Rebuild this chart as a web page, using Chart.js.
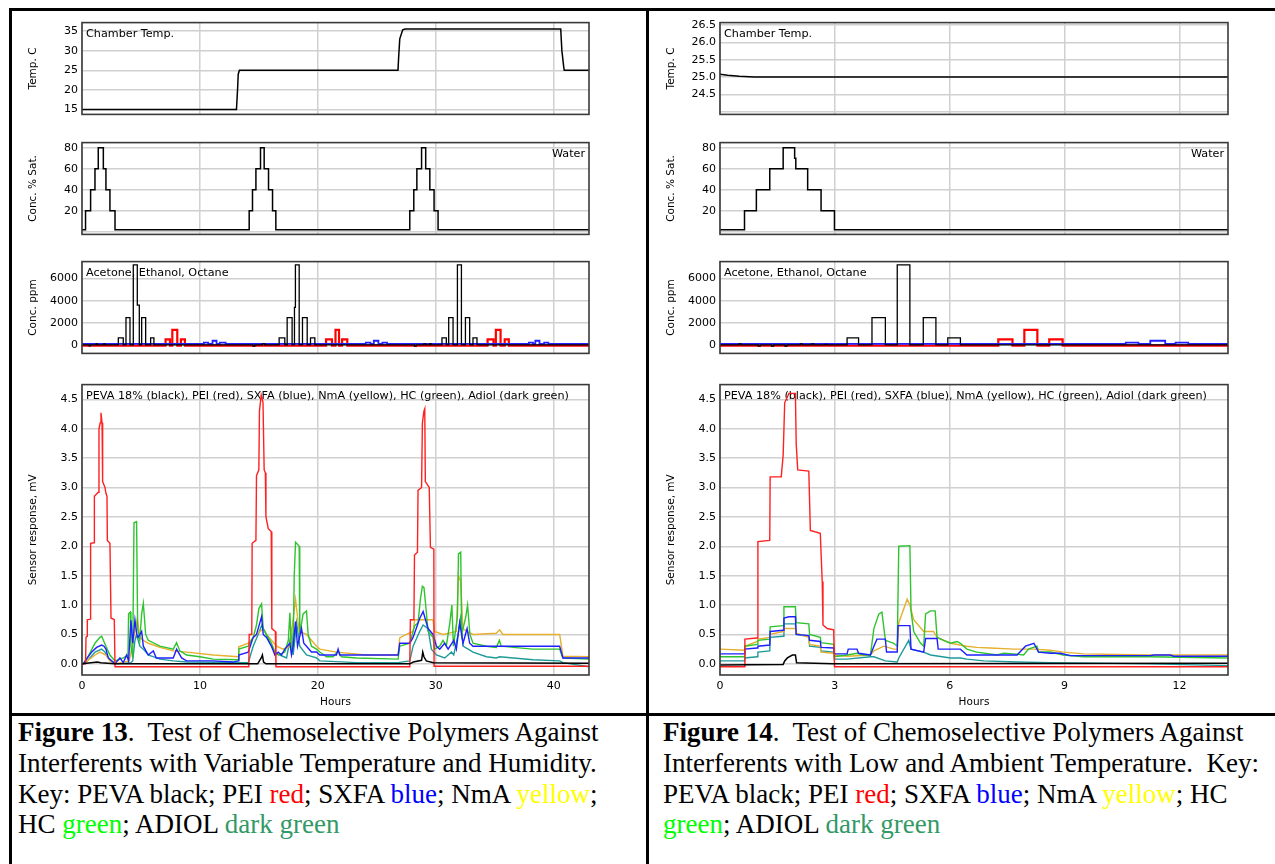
<!DOCTYPE html>
<html>
<head>
<meta charset="utf-8">
<script src="https://cdn.jsdelivr.net/npm/chart.js@4.4.1/dist/chart.umd.min.js"></script>
<style>
html, body { margin: 0; padding: 0; background: #fff; }
body { width: 1275px; height: 864px; position: relative; overflow: hidden; }
canvas { position: absolute; }
.rule { position: absolute; background: #000; }
.cap { position: absolute; font-family: "Liberation Serif", "Times New Roman", serif; font-size: 27px; line-height: 30.8px; color: #000; white-space: nowrap; }
</style>
</head>
<body>
<div class="rule" style="left:9px;top:8px;width:1266px;height:3px"></div>
<div class="rule" style="left:9px;top:8px;width:3px;height:856px"></div>
<div class="rule" style="left:646px;top:8px;width:3px;height:856px"></div>
<div class="rule" style="left:9px;top:713px;width:1266px;height:3px"></div>

<canvas id="tempL" width="587" height="113" style="left:12px;top:12px"></canvas>
<canvas id="waterL" width="587" height="113" style="left:12px;top:132px"></canvas>
<canvas id="concL" width="587" height="113" style="left:12px;top:251px"></canvas>
<canvas id="sensL" width="587" height="337" style="left:12px;top:374px"></canvas>

<canvas id="tempR" width="588" height="113" style="left:650px;top:12px"></canvas>
<canvas id="waterR" width="588" height="113" style="left:650px;top:132px"></canvas>
<canvas id="concR" width="588" height="113" style="left:650px;top:251px"></canvas>
<canvas id="sensR" width="588" height="337" style="left:650px;top:374px"></canvas>

<div class="cap" style="left:18px;top:717px"><b>Figure 13</b>.&nbsp; Test of Chemoselective Polymers Against<br>Interferents with Variable Temperature and Humidity.<br>Key: PEVA black; PEI <span style="color:#ff0000">red</span>; SXFA <span style="color:#0000ff">blue</span>; NmA <span style="color:#ffff00">yellow</span>;<br>HC <span style="color:#00ff00">green</span>; ADIOL <span style="color:#339966">dark green</span></div>
<div class="cap" style="left:663px;top:717px"><b>Figure 14</b>.&nbsp; Test of Chemoselective Polymers Against<br>Interferents with Low and Ambient Temperature.&nbsp; Key:<br>PEVA black; PEI <span style="color:#ff0000">red</span>; SXFA <span style="color:#0000ff">blue</span>; NmA <span style="color:#ffff00">yellow</span>; HC<br><span style="color:#00ff00">green</span>; ADIOL <span style="color:#339966">dark green</span></div>

<script>
// tick values
const hoursTicksL = [0, 10, 20, 30, 40];
const hoursTicksR = [0, 3, 6, 9, 12];
const tempTicksL = [15, 20, 25, 30, 35];
const tempTicksR = [24.0, 24.5, 25.0, 25.5, 26.0, 26.5];
const waterTicks = [0, 20, 40, 60, 80];
const concTicks = [0, 2000, 4000, 6000];
const sensorTicks = [0, 0.5, 1.0, 1.5, 2.0, 2.5, 3.0, 3.5, 4.0, 4.5];

// Figure 13 (left) - [hours, value]
const tempL = [[0,15],[13.1,15],[13.2,20.5],[13.25,24],[13.35,25],[26.8,25],[26.85,28],[26.95,33],[27.2,35.3],[27.4,35.5],[40.6,35.5],[40.7,30],[40.85,26],[40.9,25],[43,25]];
// stepped: value holds from this hour on
const waterL = [[0,2],[0.3,20],[0.73,40],[1.1,60],[1.38,80],[1.81,60],[2.03,40],[2.37,20],[2.8,2],[14.18,20],[14.46,40],[14.75,60],[15.14,80],[15.45,60],[15.82,40],[16.16,20],[16.44,2],[27.8,20],[28.14,40],[28.4,60],[28.8,80],[29.15,60],[29.5,40],[29.86,20],[30.2,2],[43,2]];
const acetoneL = [[0,0],[0.6,-80],[0.7,0],[1.2,100],[1.3,0],[1.85,100],[1.95,0],[3.08,640],[3.5,0],[3.73,2460],[4.07,0],[4.35,7230],[4.69,3600],[4.86,0],[5.06,2460],[5.4,0],[5.82,640],[6.1,0],[14.5,-100],[14.65,0],[15.3,100],[15.5,0],[16.72,640],[17.2,0],[17.4,2460],[17.82,0],[18.02,3400],[18.1,7230],[18.42,0],[18.7,2460],[19.1,0],[19.38,640],[19.75,0],[28.2,-100],[28.35,0],[29.0,100],[29.15,0],[29.5,120],[29.6,0],[30.53,640],[30.9,0],[31.1,2460],[31.47,0],[31.84,7230],[32.18,0],[32.52,2460],[32.88,0],[33.16,640],[33.5,0],[43,0]];
const ethanolL = [[0,-70],[7.09,500],[7.46,-70],[7.66,1360],[8.08,-70],[8.39,500],[8.73,-70],[20.7,500],[21.2,-70],[21.5,1360],[21.8,-70],[22.06,500],[22.5,-70],[34.4,500],[34.9,-70],[35.1,1360],[35.5,-70],[35.85,500],[36.2,-70],[43,-70]];
const octaneL = [[0,90],[10.34,200],[10.7,90],[11.07,380],[11.41,90],[11.69,200],[12.18,90],[24.07,200],[24.46,90],[24.75,380],[25.14,90],[25.48,200],[25.87,90],[37.9,200],[38.25,90],[38.45,380],[38.8,90],[39.2,200],[39.55,90],[43,90]];

const pevaL = [[0,0],[1.3,0.03],[1.6,0.02],[2.8,0],[14.9,0],[15.2,0.1],[15.3,0.15],[15.4,0.03],[15.6,0],[27.8,0],[28.1,0.03],[28.8,0.06],[28.9,0.2],[29.0,0.12],[29.2,0.05],[29.8,0.02],[43,0.01]];
const peiL = [[0,0],[0.3,0],[0.34,0.45],[0.43,0.47],[0.45,0.75],[0.7,0.76],[0.73,2.05],[1.02,2.06],[1.05,2.85],[1.38,2.92],[1.44,4.0],[1.55,4.1],[1.61,4.27],[1.7,4.1],[1.75,3.1],[1.95,3.0],[2.03,2.9],[2.12,2.85],[2.15,2.1],[2.37,2.05],[2.46,0.78],[2.74,0.75],[2.8,-0.05],[14.15,-0.05],[14.18,0.5],[14.4,0.5],[14.43,2.05],[14.75,2.1],[14.8,3.2],[15.0,3.3],[15.05,4.3],[15.2,4.57],[15.35,4.45],[15.45,3.3],[15.55,3.25],[15.6,2.5],[15.8,2.3],[16.05,2.25],[16.1,0.6],[16.4,0.55],[16.45,-0.05],[27.8,-0.05],[27.85,0.75],[28.15,0.75],[28.2,1.85],[28.45,1.9],[28.5,2.95],[28.8,3.0],[28.87,4.1],[29.0,4.3],[29.07,4.34],[29.12,3.1],[29.45,3.0],[29.55,1.98],[29.84,1.95],[29.86,-0.04],[43,-0.04]];
const sxfaL = [[0,0],[0.11,0],[0.45,0.1],[0.82,0.2],[1.24,0.28],[1.67,0.32],[1.86,0.3],[2.03,0.25],[2.23,0.1],[2.8,0],[3.22,0.1],[3.5,0.02],[3.79,0.15],[3.95,0.05],[4.15,0.74],[4.3,0.35],[4.49,0.75],[4.65,0.5],[4.77,0.45],[5.06,0.55],[5.2,0.3],[5.62,0.15],[6.05,0.22],[6.3,0.1],[7.74,0.1],[8.02,0.25],[8.45,0.1],[8.87,0.05],[11.13,0.05],[12.82,0.03],[13.25,0.05],[13.3,0.15],[14.1,0.2],[14.52,0.45],[14.8,0.5],[15.23,0.8],[15.37,0.5],[15.65,0.45],[16.07,0.3],[16.36,0.15],[16.64,0.2],[16.92,0.15],[17.2,0.25],[17.63,0.35],[17.77,0.15],[17.91,0.3],[18.11,0.72],[18.28,0.3],[18.62,0.6],[18.81,0.35],[19.04,0.3],[19.46,0.2],[19.89,0.2],[20.17,0.15],[21.58,0.15],[21.72,0.25],[21.86,0.15],[26.81,0.15],[26.95,0.35],[27.8,0.35],[28.08,0.45],[28.64,0.77],[28.93,0.89],[29.35,0.6],[29.77,0.5],[30.06,0.3],[30.34,0.25],[30.76,0.35],[31.05,0.25],[31.53,0.4],[31.75,0.25],[32.03,0.7],[32.32,0.35],[32.66,0.6],[32.88,0.35],[33.16,0.3],[40.51,0.3],[40.79,0.1],[43,0.1]];
const hcL = [[0,0],[0.11,0],[0.45,0.1],[1.1,0.35],[1.52,0.45],[1.67,0.47],[2.03,0.3],[2.37,0.15],[2.8,0.05],[3.5,0.1],[3.9,0.15],[3.95,0.85],[4.1,0.88],[4.15,0.3],[4.3,0.1],[4.41,2.4],[4.63,2.42],[4.72,0.6],[4.9,0.4],[5.06,0.85],[5.2,1.03],[5.4,0.5],[5.62,0.4],[6.61,0.3],[7.74,0.25],[8.02,0.36],[8.3,0.22],[8.87,0.15],[10.0,0.12],[11.13,0.08],[13.25,0.07],[13.3,0.25],[14.1,0.3],[14.52,0.45],[14.8,0.66],[15.0,0.94],[15.23,1.02],[15.37,0.6],[15.65,0.5],[16.07,0.35],[16.36,0.2],[16.64,0.15],[17.2,0.2],[17.5,0.4],[17.63,0.87],[17.77,0.2],[17.91,0.3],[18.0,1.5],[18.11,2.07],[18.42,2.0],[18.47,0.5],[18.75,0.85],[19.04,0.9],[19.18,0.5],[19.46,0.3],[19.89,0.25],[20.17,0.2],[20.73,0.12],[21.3,0.12],[21.72,0.22],[22.0,0.12],[23.28,0.1],[26.81,0.08],[26.95,0.3],[27.8,0.35],[28.22,0.65],[28.5,0.7],[28.7,1.1],[28.87,1.32],[29.0,1.3],[29.15,1.0],[29.35,0.55],[29.77,0.45],[29.9,0.25],[30.34,0.3],[30.62,0.4],[30.9,0.3],[31.2,0.7],[31.37,1.0],[31.5,0.3],[31.84,0.8],[31.93,1.87],[32.12,1.9],[32.2,0.5],[32.55,0.8],[32.7,1.0],[32.9,0.5],[33.16,0.35],[34.3,0.3],[35.14,0.28],[35.4,0.4],[35.55,0.3],[36.6,0.28],[38.25,0.25],[40.51,0.25],[40.79,0.1],[43,0.08]];
const nmaL = [[0,0],[0.11,0],[0.45,0.05],[1.1,0.15],[1.52,0.2],[2.03,0.15],[2.37,0.05],[2.8,0],[4.0,0.05],[4.35,0.4],[4.69,0.77],[4.9,0.45],[5.2,0.4],[5.62,0.35],[6.61,0.28],[7.74,0.22],[8.87,0.2],[11.13,0.15],[13.25,0.12],[13.3,0.29],[14.1,0.35],[14.52,0.45],[15.37,0.6],[15.65,0.5],[16.07,0.4],[16.5,0.3],[17.06,0.25],[17.63,0.3],[18.11,1.1],[18.42,0.55],[19.04,0.5],[19.89,0.3],[20.17,0.25],[21.58,0.2],[24.1,0.15],[26.81,0.15],[26.95,0.44],[27.5,0.5],[28.08,0.55],[28.22,0.75],[29.77,0.75],[29.9,0.55],[30.62,0.5],[31.75,0.55],[31.93,1.5],[32.12,1.4],[32.3,0.6],[32.66,0.55],[33.16,0.5],[35.14,0.52],[35.42,0.58],[35.7,0.5],[40.51,0.5],[40.79,0.13],[43,0.12]];
const adiolL = [[0,0],[0.11,0],[0.45,0.05],[1.1,0.2],[1.67,0.25],[1.95,0.2],[2.23,0.1],[2.8,0],[4.15,0.02],[4.3,0.05],[4.49,0.4],[4.63,0.5],[4.9,0.3],[5.2,0.25],[5.62,0.15],[6.61,0.08],[7.74,0.05],[8.87,0.03],[14.1,0.02],[14.52,0.3],[14.94,0.5],[15.23,0.65],[15.5,0.55],[15.93,0.35],[16.36,0.2],[16.78,0.15],[17.35,0.1],[17.77,0.55],[17.91,0.15],[18.2,0.7],[18.47,0.3],[19.04,0.15],[19.89,0.1],[20.17,0.05],[23.28,0.02],[26.81,0.02],[27.8,0.05],[28.08,0.3],[28.64,0.55],[28.93,0.66],[29.35,0.6],[29.63,0.25],[30.06,0.15],[30.76,0.1],[31.05,0.15],[31.33,0.2],[31.53,0.15],[31.9,0.5],[32.1,0.77],[32.32,0.3],[32.75,0.25],[33.16,0.2],[34.3,0.12],[35.14,0.1],[35.42,0.12],[38.25,0.07],[40.51,0.05],[40.79,0.02],[43,-0.05]];

// Figure 14 (right)
const tempR = [[0,25.08],[0.2,25.05],[0.5,25.02],[0.9,25.0],[13.27,25.0]];
const waterR = [[0,2],[0.64,20],[0.95,40],[1.3,60],[1.65,80],[1.95,70],[1.98,60],[2.29,40],[2.64,20],[2.99,2],[13.27,2]];
const acetoneR = [[0,0],[0.5,100],[0.55,0],[1.0,-100],[1.05,0],[1.35,-100],[1.4,0],[1.7,-100],[1.75,0],[2.1,100],[2.15,0],[2.4,100],[2.45,0],[2.75,50],[2.8,0],[3.32,640],[3.62,0],[3.97,2460],[4.32,0],[4.63,7230],[4.96,0],[5.31,2460],[5.64,0],[5.95,640],[6.28,0],[13.27,0]];
const ethanolR = [[0,-70],[7.27,500],[7.64,-70],[7.95,1360],[8.29,-70],[8.6,500],[8.95,-70],[13.27,-70]];
const octaneR = [[0,90],[10.6,200],[10.93,90],[11.24,380],[11.63,90],[11.9,200],[12.23,90],[13.27,90]];

const pevaR = [[0,-0.02],[1.65,-0.01],[1.69,0.05],[1.76,0.1],[1.89,0.15],[1.97,0.15],[2.0,0.02],[2.97,0.0],[13.27,0.01]];
const peiR = [[0,-0.05],[0.64,-0.05],[0.65,0.42],[0.97,0.44],[0.99,2.08],[1.3,2.1],[1.31,3.18],[1.6,3.18],[1.65,3.55],[1.69,4.44],[1.8,4.6],[1.97,4.6],[1.99,3.75],[2.03,3.3],[2.32,3.28],[2.36,2.27],[2.62,2.22],[2.67,1.4],[2.69,0.66],[2.8,0.6],[2.97,0.58],[2.99,-0.05],[13.27,-0.05]];
const sxfaR = [[0,0.17],[0.64,0.17],[0.65,0.25],[0.97,0.27],[0.99,0.3],[1.3,0.32],[1.31,0.55],[1.65,0.57],[1.67,0.78],[1.8,0.8],[1.97,0.8],[1.99,0.5],[2.32,0.48],[2.34,0.4],[2.62,0.38],[2.64,0.28],[2.97,0.27],[2.99,0.17],[3.32,0.17],[3.35,0.25],[3.58,0.25],[3.62,0.18],[3.93,0.15],[4.02,0.3],[4.1,0.42],[4.32,0.42],[4.35,0.2],[4.63,0.2],[4.65,0.65],[4.96,0.65],[4.99,0.25],[5.32,0.2],[5.37,0.43],[5.67,0.43],[5.7,0.25],[6.28,0.25],[6.45,0.15],[7.76,0.15],[7.98,0.3],[8.2,0.35],[8.32,0.2],[8.63,0.18],[8.89,0.18],[9.15,0.14],[11.24,0.14],[11.33,0.15],[11.76,0.15],[11.85,0.13],[13.27,0.13]];
const hcR = [[0,0.12],[0.64,0.12],[0.65,0.3],[0.97,0.33],[0.99,0.4],[1.3,0.42],[1.31,0.63],[1.65,0.65],[1.67,0.97],[1.97,0.97],[1.99,0.7],[2.32,0.68],[2.34,0.5],[2.62,0.45],[2.64,0.36],[2.97,0.33],[2.99,0.12],[3.32,0.15],[3.58,0.18],[3.76,0.15],[3.93,0.15],[4.02,0.6],[4.15,0.85],[4.23,0.88],[4.32,0.4],[4.54,0.35],[4.63,0.3],[4.67,2.0],[4.96,2.01],[4.99,0.9],[5.06,0.55],[5.24,0.35],[5.32,0.3],[5.37,0.85],[5.5,0.9],[5.62,0.9],[5.67,0.45],[5.84,0.4],[6.02,0.35],[6.19,0.38],[6.28,0.35],[6.45,0.25],[6.71,0.2],[7.24,0.15],[7.41,0.18],[7.67,0.17],[7.93,0.15],[8.06,0.25],[8.28,0.3],[8.32,0.2],[8.63,0.2],[8.97,0.15],[9.5,0.12],[11.24,0.12],[13.27,0.1]];
const nmaR = [[0,0.25],[0.64,0.23],[0.65,0.3],[0.97,0.38],[0.99,0.42],[1.3,0.45],[1.31,0.5],[1.65,0.55],[1.67,0.6],[1.97,0.6],[1.99,0.52],[2.32,0.45],[2.34,0.33],[2.62,0.3],[2.64,0.2],[2.97,0.18],[2.99,0.15],[3.32,0.13],[3.93,0.15],[4.02,0.22],[4.28,0.3],[4.54,0.25],[4.63,0.25],[4.67,0.7],[4.89,1.1],[4.96,1.0],[5.06,0.75],[5.32,0.55],[5.58,0.55],[5.67,0.45],[6.02,0.35],[6.45,0.3],[6.71,0.28],[7.06,0.27],[7.67,0.25],[8.2,0.25],[8.63,0.23],[8.97,0.2],[9.5,0.17],[10.37,0.16],[11.24,0.15],[13.27,0.15]];
const adiolR = [[0,0.05],[0.64,0.05],[0.65,0.1],[0.97,0.12],[0.99,0.2],[1.3,0.22],[1.31,0.45],[1.65,0.47],[1.67,0.68],[1.97,0.68],[1.99,0.5],[2.32,0.47],[2.34,0.3],[2.62,0.28],[2.64,0.22],[2.97,0.2],[2.99,0.08],[3.32,0.08],[3.93,0.12],[4.02,0.12],[4.32,0.05],[4.63,0.03],[4.67,0.1],[4.93,0.4],[4.99,0.25],[5.32,0.2],[5.5,0.15],[6.02,0.1],[6.28,0.1],[6.45,0.08],[6.89,0.05],[7.76,0.03],[8.63,0.02],[11.24,0.0],[13.27,-0.03]];

// 共用樣式
const tickFont = { family: 'DejaVu Sans', size: 11 };
const labelFont = { family: 'DejaVu Sans', size: 10.5 };
const gridColor = '#d0d0d0';
const RED = '#ff2020', BLUE = '#2020ff', GREEN = '#2ec42e', YELLOW = '#e6b030', TEAL = '#1f9a9a';

// 外框與圖內文字
const framePlugin = {
  id: 'frame',
  beforeDatasetsDraw(chart, args, opts) {
    if (!opts.text) return;
    const a = chart.chartArea, ctx = chart.ctx;
    ctx.save();
    ctx.font = '11.2px "DejaVu Sans"';
    ctx.fillStyle = '#000';
    ctx.textAlign = opts.align;
    ctx.fillText(opts.text, opts.align === 'right' ? a.right - 4 : a.left + 4, a.top + 14);
    ctx.restore();
  },
  afterDatasetsDraw(chart) {
    const a = chart.chartArea, ctx = chart.ctx;
    ctx.save();
    ctx.strokeStyle = '#3a3a3a';
    ctx.lineWidth = 1.6;
    ctx.strokeRect(a.left, a.top, a.right - a.left, a.bottom - a.top);
    ctx.restore();
  }
};

function makeChart(id, o) {
  const bottom = !!o.bottom;
  const hide = o.yHide || [];
  return new Chart(document.getElementById(id), {
    type: 'line',
    data: {
      datasets: o.series.map(s => ({
        data: s[0], borderColor: s[1], borderWidth: s[2] || 1.4,
        stepped: !!o.stepped, pointRadius: 0, tension: 0, fill: false
      }))
    },
    options: {
      responsive: false, animation: false, events: [],
      layout: { padding: { top: 2, right: 10, bottom: bottom ? 0 : 2, left: 0 } },
      plugins: {
        legend: { display: false }, tooltip: { enabled: false },
        frame: { text: o.note, align: o.noteAlign || 'left' }
      },
      scales: {
        x: {
          type: 'linear', min: 0, max: o.xMax,
          afterBuildTicks: s => { s.ticks = o.xTicks.map(v => ({ value: v })); },
          afterFit: s => { s.height = bottom ? 36 : 0; },
          grid: { color: gridColor, lineWidth: 1.5, drawTicks: false },
          border: { display: false },
          ticks: { display: bottom, padding: 5, color: '#000', font: tickFont, maxRotation: 0, autoSkip: false },
          title: { display: bottom, text: 'Hours', color: '#000', font: labelFont, padding: { top: 0, bottom: 2 } }
        },
        y: {
          type: 'linear', min: o.yMin, max: o.yMax,
          afterBuildTicks: s => { s.ticks = o.yTicks.map(v => ({ value: v })); },
          afterFit: s => { s.width = 70; },
          grid: { color: gridColor, lineWidth: 1.5, drawTicks: false },
          border: { display: false },
          ticks: { padding: 4, color: '#000', font: tickFont, autoSkip: false,
                   callback: v => hide.includes(v) ? '' : o.yFmt(v) },
          title: { display: true, text: o.yTitle, color: '#000', font: labelFont, padding: { top: 15, bottom: 0 } }
        }
      }
    },
    plugins: [framePlugin]
  });
}

const int = v => String(v);
const one = v => v.toFixed(1);
const legendText = 'PEVA 18% (black), PEI (red), SXFA (blue), NmA (yellow), HC (green), Adiol (dark green)';

// Figure 13
makeChart('tempL', { xMax: 43, xTicks: hoursTicksL, yMin: 13.75, yMax: 37.15, yTicks: tempTicksL, yFmt: int,
  yTitle: 'Temp. C', note: 'Chamber Temp.', series: [[tempL, '#000', 1.5]] });
makeChart('waterL', { xMax: 43, xTicks: hoursTicksL, yMin: -2.4, yMax: 84.8, yTicks: waterTicks, yFmt: int, yHide: [0],
  yTitle: 'Conc. % Sat.', note: 'Water', noteAlign: 'right', stepped: true, series: [[waterL, '#000', 1.5]] });
makeChart('concL', { xMax: 43, xTicks: hoursTicksL, yMin: -765, yMax: 7530, yTicks: concTicks, yFmt: int,
  yTitle: 'Conc. ppm', note: 'Acetone, Ethanol, Octane', stepped: true,
  series: [[acetoneL, '#000', 1.3], [octaneL, BLUE, 1.8], [ethanolL, '#ff0000', 2.2]] });
makeChart('sensL', { xMax: 43, xTicks: hoursTicksL, yMin: -0.19, yMax: 4.75, yTicks: sensorTicks, yFmt: one,
  yTitle: 'Sensor response, mV', note: legendText, bottom: true,
  series: [[pevaL, '#000', 1.5], [peiL, RED], [sxfaL, BLUE], [hcL, GREEN], [nmaL, YELLOW], [adiolL, TEAL]] });

// Figure 14
makeChart('tempR', { xMax: 13.27, xTicks: hoursTicksR, yMin: 23.92, yMax: 26.57, yTicks: tempTicksR, yFmt: one, yHide: [24.0],
  yTitle: 'Temp. C', note: 'Chamber Temp.', series: [[tempR, '#000', 1.6]] });
makeChart('waterR', { xMax: 13.27, xTicks: hoursTicksR, yMin: -2.4, yMax: 84.8, yTicks: waterTicks, yFmt: int, yHide: [0],
  yTitle: 'Conc. % Sat.', note: 'Water', noteAlign: 'right', stepped: true, series: [[waterR, '#000', 1.5]] });
makeChart('concR', { xMax: 13.27, xTicks: hoursTicksR, yMin: -765, yMax: 7530, yTicks: concTicks, yFmt: int,
  yTitle: 'Conc. ppm', note: 'Acetone, Ethanol, Octane', stepped: true,
  series: [[acetoneR, '#000', 1.3], [octaneR, BLUE, 1.8], [ethanolR, '#ff0000', 2.2]] });
makeChart('sensR', { xMax: 13.27, xTicks: hoursTicksR, yMin: -0.19, yMax: 4.75, yTicks: sensorTicks, yFmt: one,
  yTitle: 'Sensor response, mV', note: legendText, bottom: true,
  series: [[pevaR, '#000', 1.5], [peiR, RED], [sxfaR, BLUE], [hcR, GREEN], [nmaR, YELLOW], [adiolR, TEAL]] });
</script>
</body>
</html>
